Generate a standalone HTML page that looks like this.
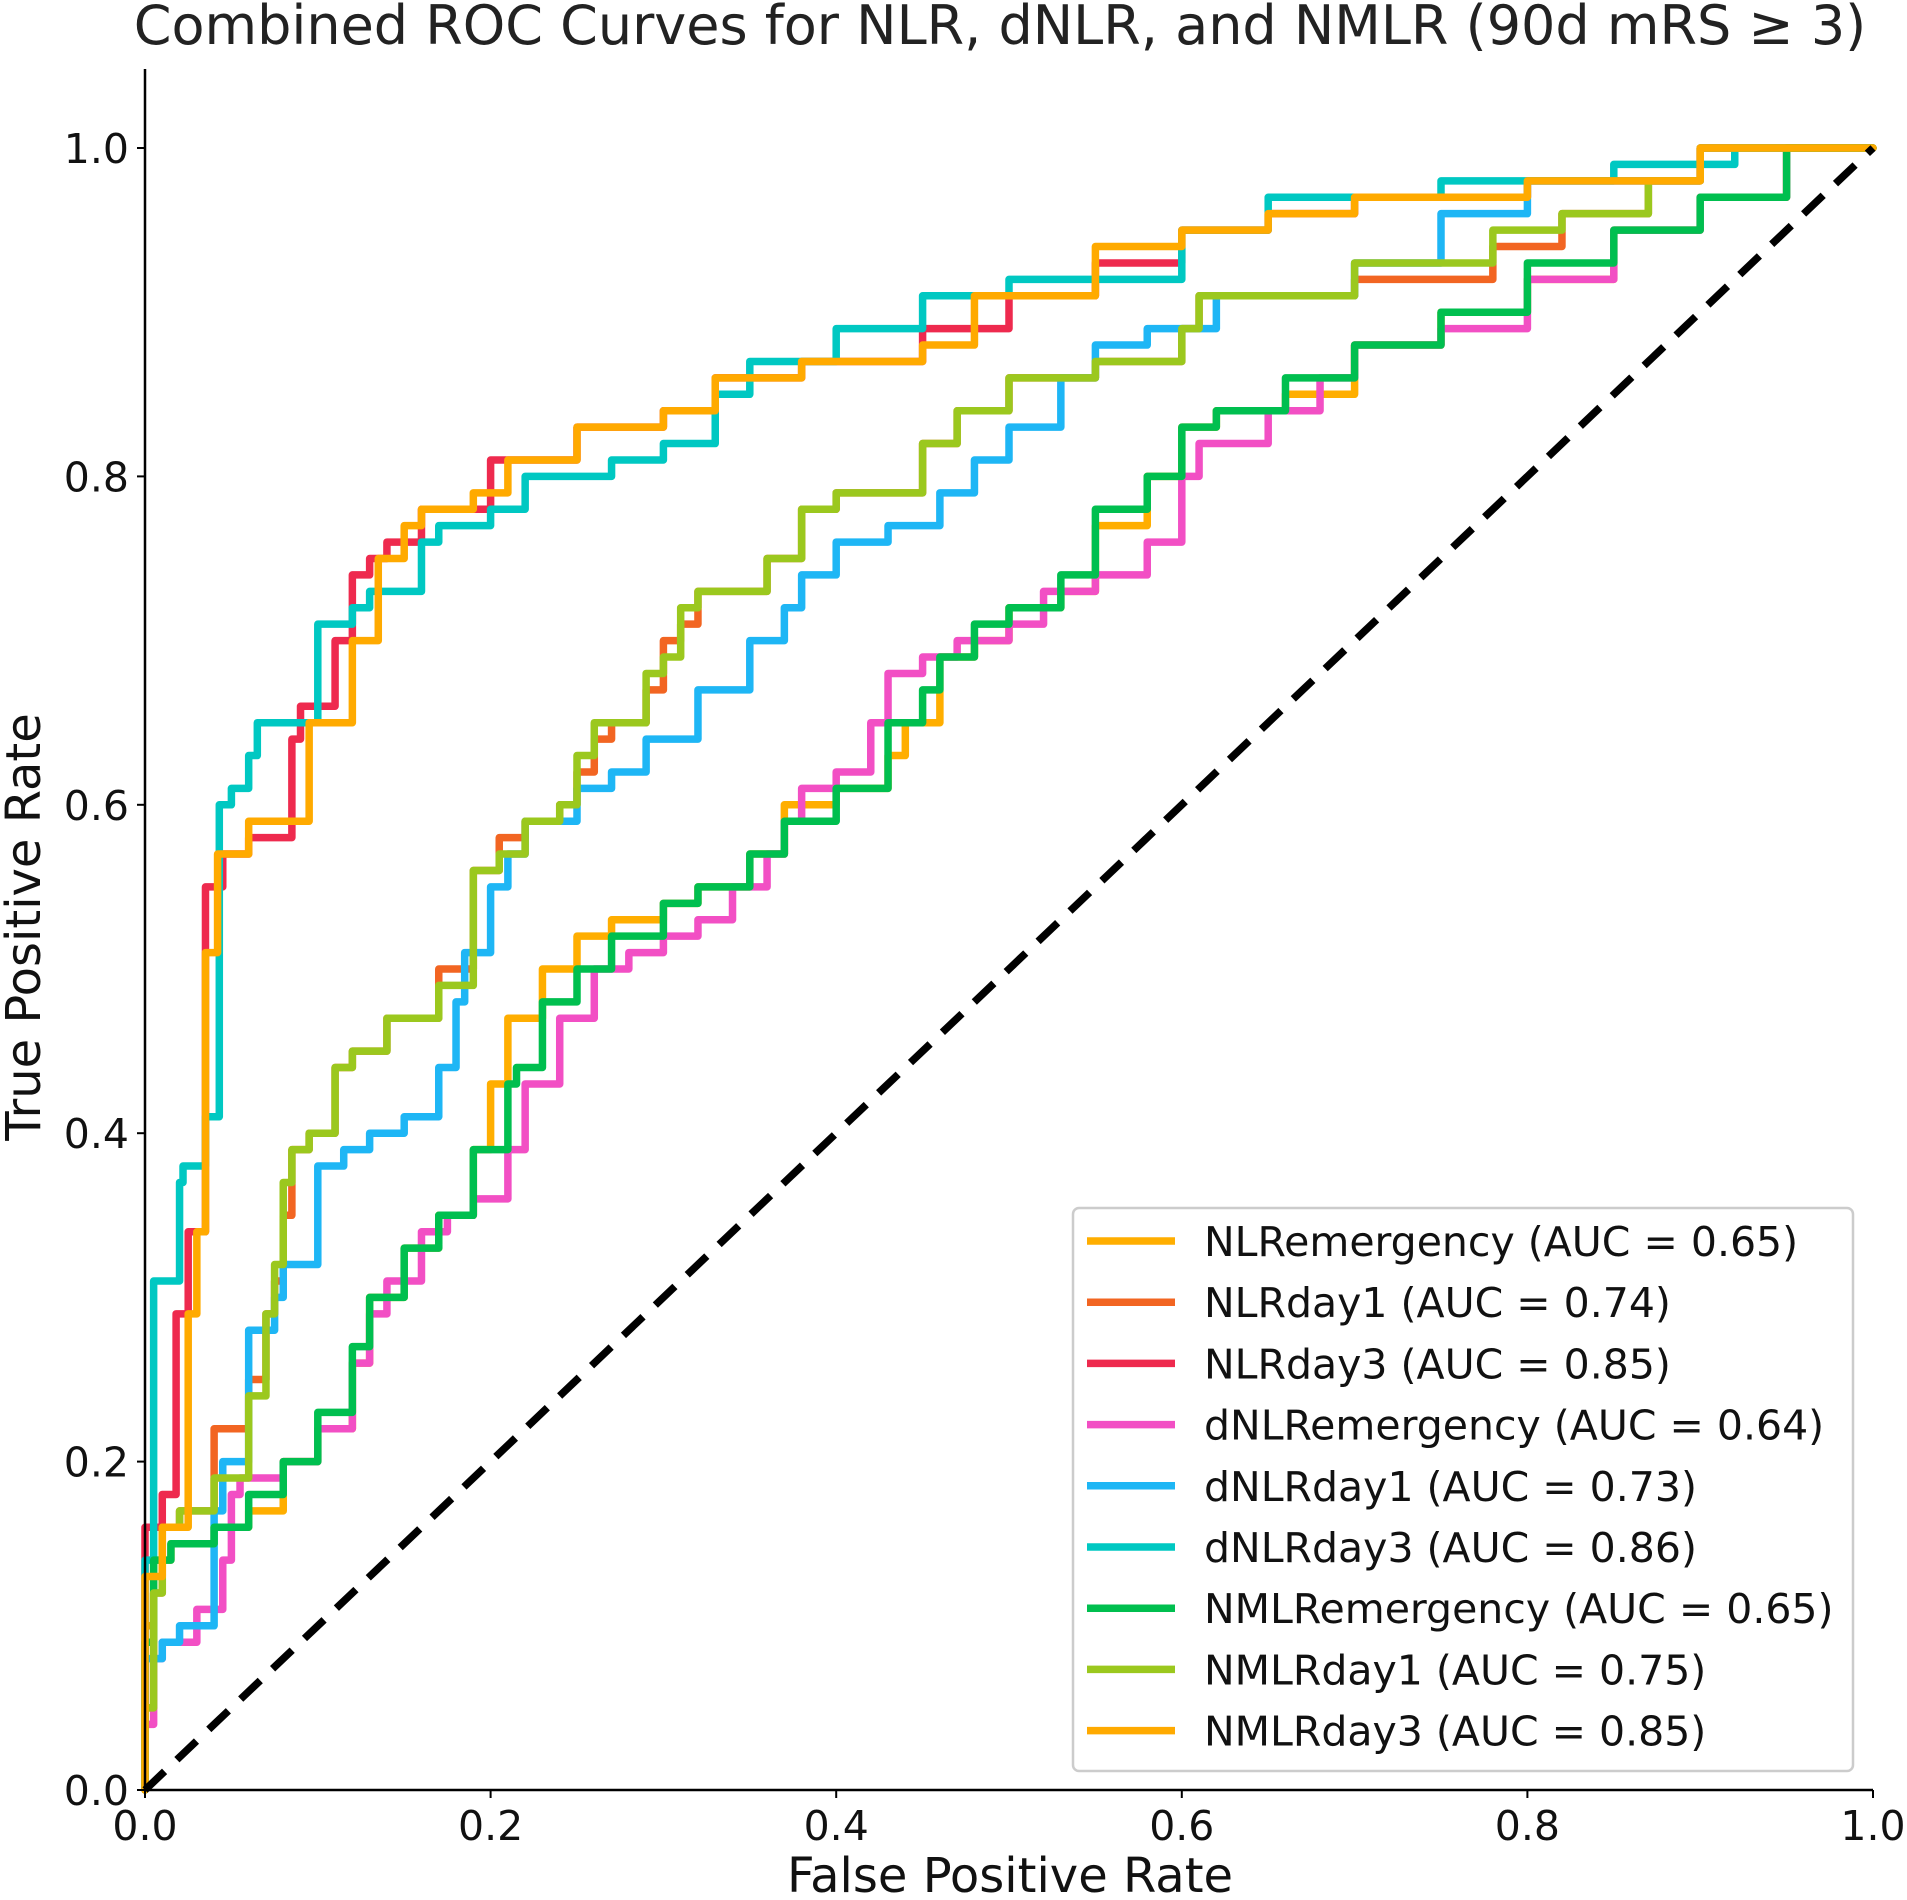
<!DOCTYPE html>
<html><head><meta charset="utf-8"><style>
html,body{margin:0;padding:0;background:#fff}
svg{display:block;font-family:"DejaVu Sans","Liberation Sans",sans-serif}
</style></head><body>
<svg id="chart" width="1907" height="1900" viewBox="0 0 1907 1900" xmlns="http://www.w3.org/2000/svg">
<text x="1000" y="44" font-size="54" text-anchor="middle" fill="#222">Combined ROC Curves for NLR, dNLR, and NMLR (90d mRS ≥ 3)</text>
<g id="curves"></g>
<g id="axes"></g>
<g id="legend"></g>
<text x="1010" y="1892" font-size="48" text-anchor="middle" fill="#111">False Positive Rate</text>
<text transform="translate(40,927) rotate(-90)" font-size="48" text-anchor="middle" fill="#111">True Positive Rate</text>
</svg>
<script>
const seriesNames = ["NLRemergency","NLRday1","NLRday3","dNLRemergency","dNLRday1","dNLRday3","NMLRemergency","NMLRday1","NMLRday3"];
const seriesAUC = ["0.65","0.74","0.85","0.64","0.73","0.86","0.65","0.75","0.85"];
const seriesColors = ["#FFAE00","#F26522","#EE2A4E","#F24FC4","#1EB6F5","#00C8C2","#00BF4F","#9BC81E","#FFAA00"];
const xTicks = [0,0.2,0.4,0.6,0.8,1.0];
const yTicks = [0,0.2,0.4,0.6,0.8,1.0];

const fpr0 = [0,0.005,0.015,0.04,0.06,0.08,0.1,0.12,0.13,0.15,0.17,0.19,0.2,0.21,0.23,0.25,0.27,0.3,0.32,0.35,0.37,0.4,0.43,0.44,0.46,0.48,0.5,0.53,0.55,0.58,0.6,0.62,0.66,0.7,0.75,0.8,0.85,0.9,0.95,1];
const tpr0 = [0,0.1,0.14,0.15,0.16,0.17,0.2,0.22,0.26,0.3,0.33,0.35,0.39,0.43,0.47,0.5,0.52,0.53,0.54,0.55,0.57,0.6,0.61,0.63,0.65,0.69,0.7,0.72,0.73,0.77,0.8,0.83,0.84,0.85,0.88,0.9,0.92,0.95,0.97,1];
const fpr1 = [0,0.005,0.01,0.02,0.04,0.06,0.07,0.075,0.08,0.085,0.095,0.11,0.12,0.14,0.17,0.19,0.205,0.22,0.24,0.25,0.26,0.27,0.29,0.3,0.31,0.32,0.36,0.38,0.4,0.45,0.47,0.5,0.55,0.6,0.61,0.7,0.78,0.82,0.87,0.9,1];
const tpr1 = [0,0.05,0.12,0.16,0.17,0.22,0.25,0.29,0.31,0.35,0.39,0.4,0.44,0.45,0.47,0.5,0.56,0.58,0.59,0.6,0.62,0.64,0.65,0.67,0.7,0.71,0.73,0.75,0.78,0.79,0.82,0.84,0.86,0.87,0.89,0.91,0.92,0.94,0.96,0.98,1];
const fpr2 = [0,0.01,0.018,0.025,0.035,0.035,0.045,0.06,0.085,0.09,0.11,0.12,0.13,0.14,0.16,0.2,0.25,0.3,0.33,0.38,0.45,0.5,0.55,0.6,0.65,0.7,0.8,0.9,1];
const tpr2 = [0,0.16,0.18,0.29,0.34,0.53,0.55,0.57,0.58,0.64,0.66,0.7,0.74,0.75,0.76,0.78,0.81,0.83,0.84,0.86,0.87,0.89,0.91,0.93,0.95,0.96,0.97,0.98,1];
const fpr3 = [0,0.005,0.01,0.03,0.045,0.05,0.055,0.08,0.1,0.12,0.13,0.14,0.16,0.175,0.19,0.21,0.22,0.24,0.26,0.28,0.3,0.32,0.34,0.36,0.37,0.38,0.4,0.42,0.43,0.45,0.47,0.5,0.52,0.55,0.58,0.6,0.61,0.65,0.68,0.7,0.75,0.8,0.85,0.9,0.95,1];
const tpr3 = [0,0.04,0.08,0.09,0.11,0.14,0.18,0.19,0.2,0.22,0.26,0.29,0.31,0.34,0.35,0.36,0.39,0.43,0.47,0.5,0.51,0.52,0.53,0.55,0.57,0.59,0.61,0.62,0.65,0.68,0.69,0.7,0.71,0.73,0.74,0.76,0.8,0.82,0.84,0.86,0.88,0.89,0.92,0.95,0.97,1];
const fpr4 = [0,0.01,0.02,0.04,0.045,0.06,0.075,0.08,0.1,0.115,0.13,0.15,0.17,0.18,0.185,0.2,0.21,0.22,0.25,0.27,0.29,0.32,0.35,0.37,0.38,0.4,0.43,0.46,0.48,0.5,0.53,0.55,0.58,0.62,0.7,0.75,0.8,0.9,1];
const tpr4 = [0,0.08,0.09,0.1,0.17,0.2,0.28,0.3,0.32,0.38,0.39,0.4,0.41,0.44,0.48,0.51,0.55,0.57,0.59,0.61,0.62,0.64,0.67,0.7,0.72,0.74,0.76,0.77,0.79,0.81,0.83,0.86,0.88,0.89,0.91,0.93,0.96,0.98,1];
const fpr5 = [0,0.005,0.005,0.02,0.022,0.035,0.035,0.043,0.043,0.05,0.06,0.065,0.08,0.1,0.1,0.12,0.13,0.16,0.17,0.2,0.22,0.27,0.3,0.33,0.35,0.4,0.45,0.5,0.6,0.65,0.75,0.85,0.92,1];
const tpr5 = [0,0.14,0.29,0.31,0.37,0.38,0.41,0.41,0.52,0.6,0.61,0.63,0.65,0.65,0.69,0.71,0.72,0.73,0.76,0.77,0.78,0.8,0.81,0.82,0.85,0.87,0.89,0.91,0.92,0.95,0.97,0.98,0.99,1];
const fpr6 = [0,0.005,0.015,0.04,0.06,0.08,0.1,0.12,0.13,0.15,0.17,0.19,0.21,0.215,0.23,0.25,0.27,0.3,0.32,0.35,0.37,0.4,0.43,0.45,0.46,0.48,0.5,0.53,0.55,0.58,0.6,0.62,0.66,0.7,0.75,0.8,0.85,0.9,0.95,1];
const tpr6 = [0,0.09,0.14,0.15,0.16,0.18,0.2,0.23,0.27,0.3,0.33,0.35,0.39,0.43,0.44,0.48,0.5,0.52,0.54,0.55,0.57,0.59,0.61,0.65,0.67,0.69,0.71,0.72,0.74,0.78,0.8,0.83,0.84,0.86,0.88,0.9,0.93,0.95,0.97,1];
const fpr7 = [0,0.005,0.01,0.02,0.04,0.06,0.07,0.075,0.08,0.085,0.095,0.11,0.12,0.14,0.17,0.19,0.205,0.22,0.24,0.25,0.26,0.27,0.29,0.3,0.31,0.32,0.36,0.38,0.4,0.45,0.47,0.5,0.55,0.6,0.61,0.7,0.78,0.82,0.87,0.9,1];
const tpr7 = [0,0.05,0.12,0.16,0.17,0.19,0.24,0.29,0.32,0.37,0.39,0.4,0.44,0.45,0.47,0.49,0.56,0.57,0.59,0.6,0.63,0.65,0.65,0.68,0.69,0.72,0.73,0.75,0.78,0.79,0.82,0.84,0.86,0.87,0.89,0.91,0.93,0.95,0.96,0.98,1];
const fpr8 = [0,0,0.01,0.02,0.025,0.025,0.03,0.03,0.035,0.035,0.042,0.042,0.06,0.08,0.095,0.095,0.12,0.12,0.135,0.135,0.15,0.16,0.19,0.21,0.25,0.3,0.33,0.38,0.45,0.48,0.55,0.6,0.65,0.7,0.8,0.9,1];
const tpr8 = [0,0.1,0.13,0.16,0.16,0.29,0.29,0.34,0.34,0.51,0.51,0.56,0.57,0.59,0.59,0.65,0.65,0.7,0.7,0.74,0.75,0.77,0.78,0.79,0.81,0.83,0.84,0.86,0.87,0.88,0.91,0.94,0.95,0.96,0.97,0.98,1];

const fprs=[fpr0,fpr1,fpr2,fpr3,fpr4,fpr5,fpr6,fpr7,fpr8];
const tprs=[tpr0,tpr1,tpr2,tpr3,tpr4,tpr5,tpr6,tpr7,tpr8];

const X0=145,X1=1873,Y0=1790,Y1=148;
function sx(v){return X0+(X1-X0)*v;}
function sy(v){return Y0-(Y0-Y1)*v;}
const NS="http://www.w3.org/2000/svg";
function mk(tag,attrs,parent){const e=document.createElementNS(NS,tag);for(const k in attrs)e.setAttribute(k,attrs[k]);parent.appendChild(e);return e;}

const cg=document.getElementById('curves');
for(let s=0;s<seriesNames.length;s++){
  const f=fprs[s],t=tprs[s];
  let d='M'+sx(f[0])+','+sy(t[0]);
  for(let i=1;i<f.length;i++){d+=' L'+sx(f[i-1])+','+sy(t[i])+' L'+sx(f[i])+','+sy(t[i]);}
  const p=mk('path',{d:d,fill:'none',stroke:seriesColors[s],'stroke-width':7.5,'stroke-linejoin':'round','stroke-linecap':'round'},cg);
  
  
}
const diag=mk('line',{x1:sx(0),y1:sy(0),x2:sx(1),y2:sy(1),stroke:'#000','stroke-width':7.5,'stroke-dasharray':'27,17'},cg);



const ag=document.getElementById('axes');
const ls=mk('line',{x1:X0,y1:69,x2:X0,y2:Y0+1,stroke:'#000','stroke-width':2.5},ag);


const bs=mk('line',{x1:X0-1,y1:Y0,x2:X1,y2:Y0,stroke:'#000','stroke-width':2.5},ag);


xTicks.forEach(v=>{
  mk('line',{x1:sx(v),y1:Y0,x2:sx(v),y2:Y0+8,stroke:'#000','stroke-width':2},ag);
  const tx=mk('text',{x:sx(v),y:Y0+50,'font-size':41,'text-anchor':'middle',fill:'#111'},ag);
  tx.textContent=v.toFixed(1);
  
  
});
yTicks.forEach(v=>{
  mk('line',{x1:X0-8,y1:sy(v),x2:X0,y2:sy(v),stroke:'#000','stroke-width':2},ag);
  const tx=mk('text',{x:X0-16,y:sy(v)+15,'font-size':41,'text-anchor':'end',fill:'#111'},ag);
  tx.textContent=v.toFixed(1);
  
  
});

const lg=document.getElementById('legend');
const box=mk('rect',{x:1073,y:1208,width:780,height:563,rx:6,fill:'#fff','fill-opacity':0.85,stroke:'#ccc','stroke-width':2.5},lg);


for(let s=0;s<seriesNames.length;s++){
  const y=1241+61.2*s;
  const ln=mk('line',{x1:1087,y1:y,x2:1175,y2:y,stroke:seriesColors[s],'stroke-width':7.5},lg);
  
  
  const tx=mk('text',{x:1204,y:y+15,'font-size':41,fill:'#111'},lg);
  tx.textContent=seriesNames[s]+' (AUC = '+seriesAUC[s]+')';
  
  
}
</script>
</body></html>
